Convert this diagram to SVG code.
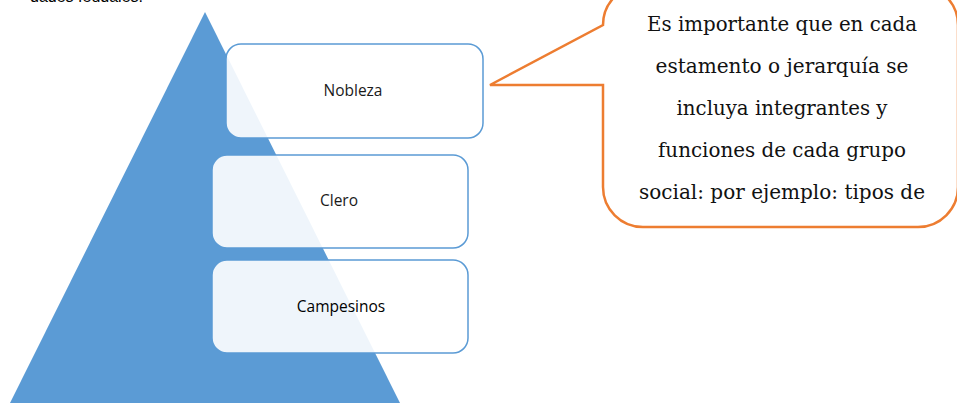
<svg xmlns="http://www.w3.org/2000/svg" width="957" height="403" viewBox="0 0 957 403">
<style>
.box{fill:#FFFFFF;fill-opacity:0.9;stroke:#5B9BD5;stroke-width:1.5}
.lbl{font-family:"Open Sans","Noto Sans","Liberation Sans",sans-serif;font-size:15.5px;fill:#1a1a1a;text-anchor:middle}
.call{fill:#FFFFFF;stroke:#ED7D31;stroke-width:2.5;stroke-linejoin:miter}
.ct{font-family:"DejaVu Serif","Liberation Serif",serif;font-size:21px;fill:#111;text-anchor:middle}
.top{font-family:"Liberation Sans",Arial,sans-serif;font-size:16px;fill:#000}
</style>
<rect x="0" y="0" width="957" height="403" fill="#FFFFFF"/>
<text class="top" x="143" y="1.5" text-anchor="end">dades feudales.</text>
<g id="pyramid">
<polygon points="205,12 400,403 10,403" fill="#5B9BD5"/>
</g>
<g id="nobleza">
<rect class="box" x="226" y="44" width="257" height="94" rx="15"/>
<text class="lbl" x="353" y="96">Nobleza</text>
</g>
<g id="clero">
<rect class="box" x="212" y="155" width="256" height="93" rx="15"/>
<text class="lbl" x="339" y="206">Clero</text>
</g>
<g id="campesinos">
<rect class="box" x="212" y="260" width="256" height="93" rx="15"/>
<text class="lbl" x="341" y="312" style="fill:#000">Campesinos</text>
</g>
<g id="callout">
<path class="call" d="M643,-15 L918,-15 A40,40 0 0 1 958,25 L958,187 A40,40 0 0 1 918,227 L643,227 A40,40 0 0 1 603,187 L603,85 L490,85 L603,25 A40,40 0 0 1 643,-15 Z"/>
<text class="ct" x="782" y="31" textLength="270" lengthAdjust="spacingAndGlyphs">Es importante que en cada</text>
<text class="ct" x="782" y="73" textLength="253" lengthAdjust="spacingAndGlyphs">estamento o jerarquía se</text>
<text class="ct" x="782" y="115" textLength="211" lengthAdjust="spacingAndGlyphs">incluya integrantes y</text>
<text class="ct" x="782" y="157" textLength="248" lengthAdjust="spacingAndGlyphs">funciones de cada grupo</text>
<text class="ct" x="782" y="199" textLength="286" lengthAdjust="spacingAndGlyphs">social: por ejemplo: tipos de</text>
</g>
<g id="connectors"/>
</svg>
